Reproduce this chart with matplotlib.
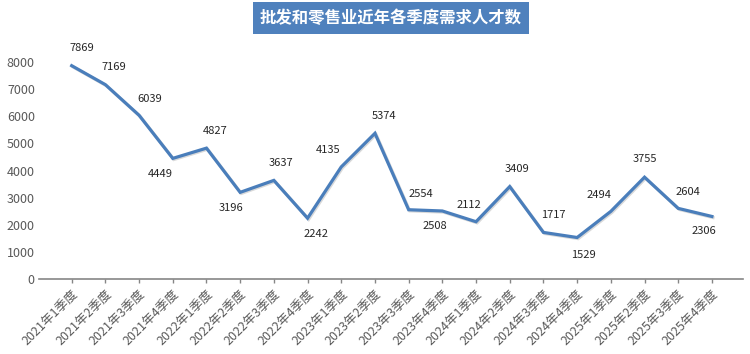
"""
批发和零售业近年各季度需求人才数 折线图
"""
import matplotlib.pyplot as plt
import matplotlib.patheffects as pe

plt.rcParams['font.family'] = ['Noto Sans CJK SC', 'DejaVu Sans']

quarters = ['2021年1季度', '2021年2季度', '2021年3季度', '2021年4季度',
            '2022年1季度', '2022年2季度', '2022年3季度', '2022年4季度',
            '2023年1季度', '2023年2季度', '2023年3季度', '2023年4季度',
            '2024年1季度', '2024年2季度', '2024年3季度', '2024年4季度',
            '2025年1季度', '2025年2季度', '2025年3季度', '2025年4季度']
demand = [7869, 7169, 6039, 4449, 4827, 3196, 3637, 2242, 4135, 5374,
          2554, 2508, 2112, 3409, 1717, 1529, 2494, 3755, 2604, 2306]
# 数据标签偏移（像素，dx, dy 向上为正）
label_dx = [10, 8, 11, -12, 9, -9, 7, 8, -13, 9, 12, -7, -7, 7, 10, 6, -12, 0, 10, -8]
label_dy = [18, 18, 16, -16, 17, -16, 17, -16, 17, 17, 16, -15, 17, 18, 17, -17, 16, 18, 16, -15]

fig = plt.figure(figsize=(7.5, 3.54), dpi=100)
ax = fig.add_axes([0.052, 0.212, 0.939, 0.689])

x = list(range(len(quarters)))
ax.plot(x, demand, color='#4A7EBB', linewidth=2.3, solid_joinstyle='miter',
        path_effects=[pe.SimpleLineShadow(offset=(0.8, -0.8), alpha=0.15), pe.Normal()])

px = 0.72  # 1 像素对应的磅数
for i, v in enumerate(demand):
    ax.annotate(str(v), (i, v), xytext=(label_dx[i] * px, label_dy[i] * px),
                textcoords='offset points', ha='center', va='center',
                fontsize=8, color='#262626')

ax.set_xlim(-0.97, 19.93)
ax.set_ylim(0, 9000)
ax.set_yticks(range(0, 9000, 1000))
ax.set_xticks(x)
ax.set_xticklabels(quarters, rotation=45, ha='right', rotation_mode='anchor')
ax.tick_params(axis='x', colors='#595959', labelsize=9, length=3, width=1, pad=3)
ax.tick_params(axis='x', color='#868686')
ax.tick_params(axis='y', colors='#595959', labelsize=9, length=0, pad=3)

for s in ['top', 'right', 'left']:
    ax.spines[s].set_visible(False)
ax.spines['bottom'].set_color('#868686')
ax.spines['bottom'].set_linewidth(1.2)

fig.text(0.521, 0.949, '批发和零售业近年各季度需求人才数', ha='center', va='center',
         fontsize=11.8, fontweight='bold', color='white',
         bbox=dict(boxstyle='square,pad=0.42', facecolor='#4F81BD', edgecolor='none'))

plt.savefig('out.png', dpi=100)
